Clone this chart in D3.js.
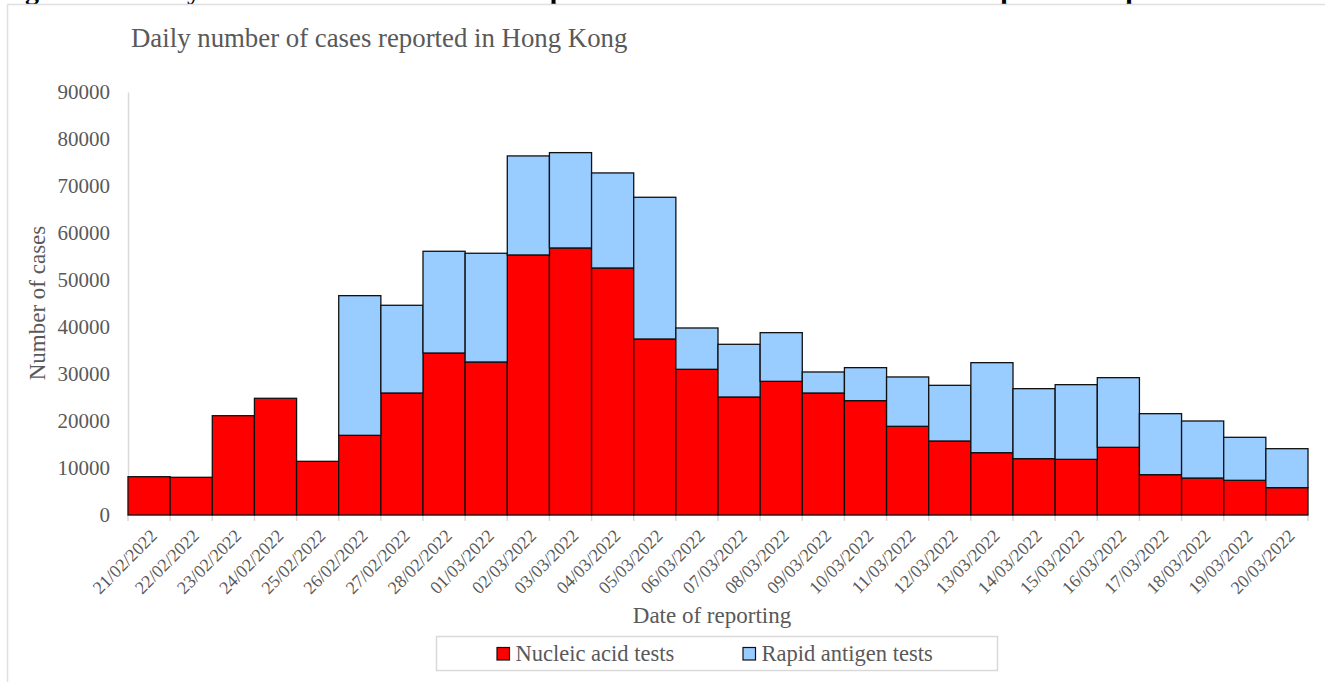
<!DOCTYPE html>
<html>
<head>
<meta charset="utf-8">
<script src="https://cdn.jsdelivr.net/npm/d3@7"></script>
<style>
  html, body { margin: 0; padding: 0; background: #fff; }
  svg { display: block; }
  text { font-family: "Liberation Serif", "Times New Roman", Times, serif; }
</style>
</head>
<body>
<svg id="chart" width="1325" height="682"></svg>
<script>
const dates = ["21/02/2022","22/02/2022","23/02/2022","24/02/2022","25/02/2022","26/02/2022","27/02/2022",
  "28/02/2022","01/03/2022","02/03/2022","03/03/2022","04/03/2022","05/03/2022","06/03/2022",
  "07/03/2022","08/03/2022","09/03/2022","10/03/2022","11/03/2022","12/03/2022","13/03/2022",
  "14/03/2022","15/03/2022","16/03/2022","17/03/2022","18/03/2022","19/03/2022","20/03/2022"];
const nucleicAcid = [8150, 8020, 21130, 24830, 11420, 16950, 25960, 34470, 32560, 55330, 56820, 52560, 37450, 31000,
  25110, 28440, 25960, 24330, 18870, 15750, 13260, 11990, 11840, 14400, 8580, 7870, 7380, 5820];
const rapidAntigen = [0, 0, 0, 0, 0, 29720, 18660, 21640, 23130, 21070, 20280, 20220, 30150, 8790,
  11210, 10360, 4470, 7020, 10500, 11840, 19150, 14890, 15890, 14820, 12980, 12130, 9150, 8290];
const yTicks = [0, 10000, 20000, 30000, 40000, 50000, 60000, 70000, 80000, 90000];
const seriesNames = ["Nucleic acid tests", "Rapid antigen tests"];
const seriesColors = ["#ff0000", "#99ccff"];
const chartTitle = "Daily number of cases reported in Hong Kong";
const figureCaption = "Figure 1.1: Daily number of new local cases reported with nucleic acid tests and the positive rapid tests";

const svg = d3.select("#chart");
const margin = {left: 128, right: 1308, top: 92, bottom: 515};
const gray = "#595959";
const lineGray = "#d9d9d9";

// caption cut off at the top edge, only descenders visible
svg.append("text").attr("x", 0).attr("y", -1)
  .attr("font-size", 28).attr("font-weight", "bold").attr("fill", "#000")
  .text(figureCaption);

// chart frame
svg.append("rect").attr("x", 7.5).attr("y", 4.5).attr("width", 1330).attr("height", 700)
  .attr("fill", "#fff").attr("stroke", "#e0e0e0").attr("stroke-width", 1.5);

const x = d3.scaleBand().domain(dates).range([margin.left, margin.right]).padding(0);
const y = d3.scaleLinear().domain([0, 90000]).range([margin.bottom, margin.top]);

const table = dates.map((d, i) => ({date: d, nucleic: nucleicAcid[i], rapid: rapidAntigen[i]}));
const stack = d3.stack().keys(["nucleic", "rapid"])(table);

// chart title
svg.append("text").attr("x", 131).attr("y", 47).attr("font-size", 26.8).attr("fill", gray).text(chartTitle);

// y axis
const yAxis = d3.axisLeft(y).tickValues(yTicks).tickSize(0).tickPadding(18).tickFormat(d3.format("d"));
const gy = svg.append("g").attr("transform", `translate(${margin.left},0)`).call(yAxis);
gy.select(".domain").attr("stroke", lineGray).attr("stroke-width", 1.5);
gy.selectAll("text").attr("font-size", 21).attr("fill", gray).attr("font-family", "Liberation Serif");

// x axis line and boundary ticks
svg.append("line").attr("x1", margin.left).attr("x2", margin.right)
  .attr("y1", y(0)).attr("y2", y(0)).attr("stroke", lineGray).attr("stroke-width", 1.5);
const bounds = dates.map(d => x(d)).concat([x(dates[dates.length - 1]) + x.bandwidth()]);
svg.append("g").selectAll("line").data(bounds).join("line")
  .attr("x1", d => d).attr("x2", d => d).attr("y1", y(0)).attr("y2", y(0) + 6)
  .attr("stroke", lineGray).attr("stroke-width", 1.5);

// bars
svg.append("g").selectAll("g").data(stack).join("g")
  .attr("fill", (s, i) => seriesColors[i])
  .selectAll("rect").data(s => s.filter(d => d[1] - d[0] > 0)).join("rect")
  .attr("x", d => x(d.data.date))
  .attr("y", d => y(d[1]))
  .attr("width", x.bandwidth())
  .attr("height", d => y(d[0]) - y(d[1]))
  .attr("stroke", "#111").attr("stroke-width", 1.3);

// x tick labels
const xAxis = d3.axisBottom(x).tickSize(0).tickPadding(0);
const gx = svg.append("g").attr("transform", `translate(0,${y(0)})`).call(xAxis);
gx.select(".domain").remove();
gx.selectAll(".tick text")
  .attr("font-size", 18).attr("fill", gray).attr("font-family", "Liberation Serif")
  .attr("text-anchor", "end").attr("dy", null).attr("y", null)
  .attr("transform", "translate(9,22) rotate(-45)");

// axis titles
svg.append("text").attr("x", 712).attr("y", 623).attr("text-anchor", "middle")
  .attr("font-size", 23).attr("fill", gray).text("Date of reporting");
svg.append("text").attr("transform", "translate(45,303) rotate(-90)").attr("text-anchor", "middle")
  .attr("font-size", 23).attr("fill", gray).text("Number of cases");

// legend
const lg = svg.append("g");
lg.append("rect").attr("x", 436.5).attr("y", 636.5).attr("width", 561).attr("height", 34)
  .attr("fill", "#fff").attr("stroke", lineGray).attr("stroke-width", 1.5);
const legendX = [497, 743];
seriesNames.forEach((name, i) => {
  lg.append("rect").attr("x", legendX[i]).attr("y", 647.5).attr("width", 12.5).attr("height", 12.5)
    .attr("fill", seriesColors[i]).attr("stroke", "#111").attr("stroke-width", 1.2);
  lg.append("text").attr("x", legendX[i] + 18.5).attr("y", 661).attr("font-size", 22.5)
    .attr("fill", gray).text(name);
});
</script>
</body>
</html>
